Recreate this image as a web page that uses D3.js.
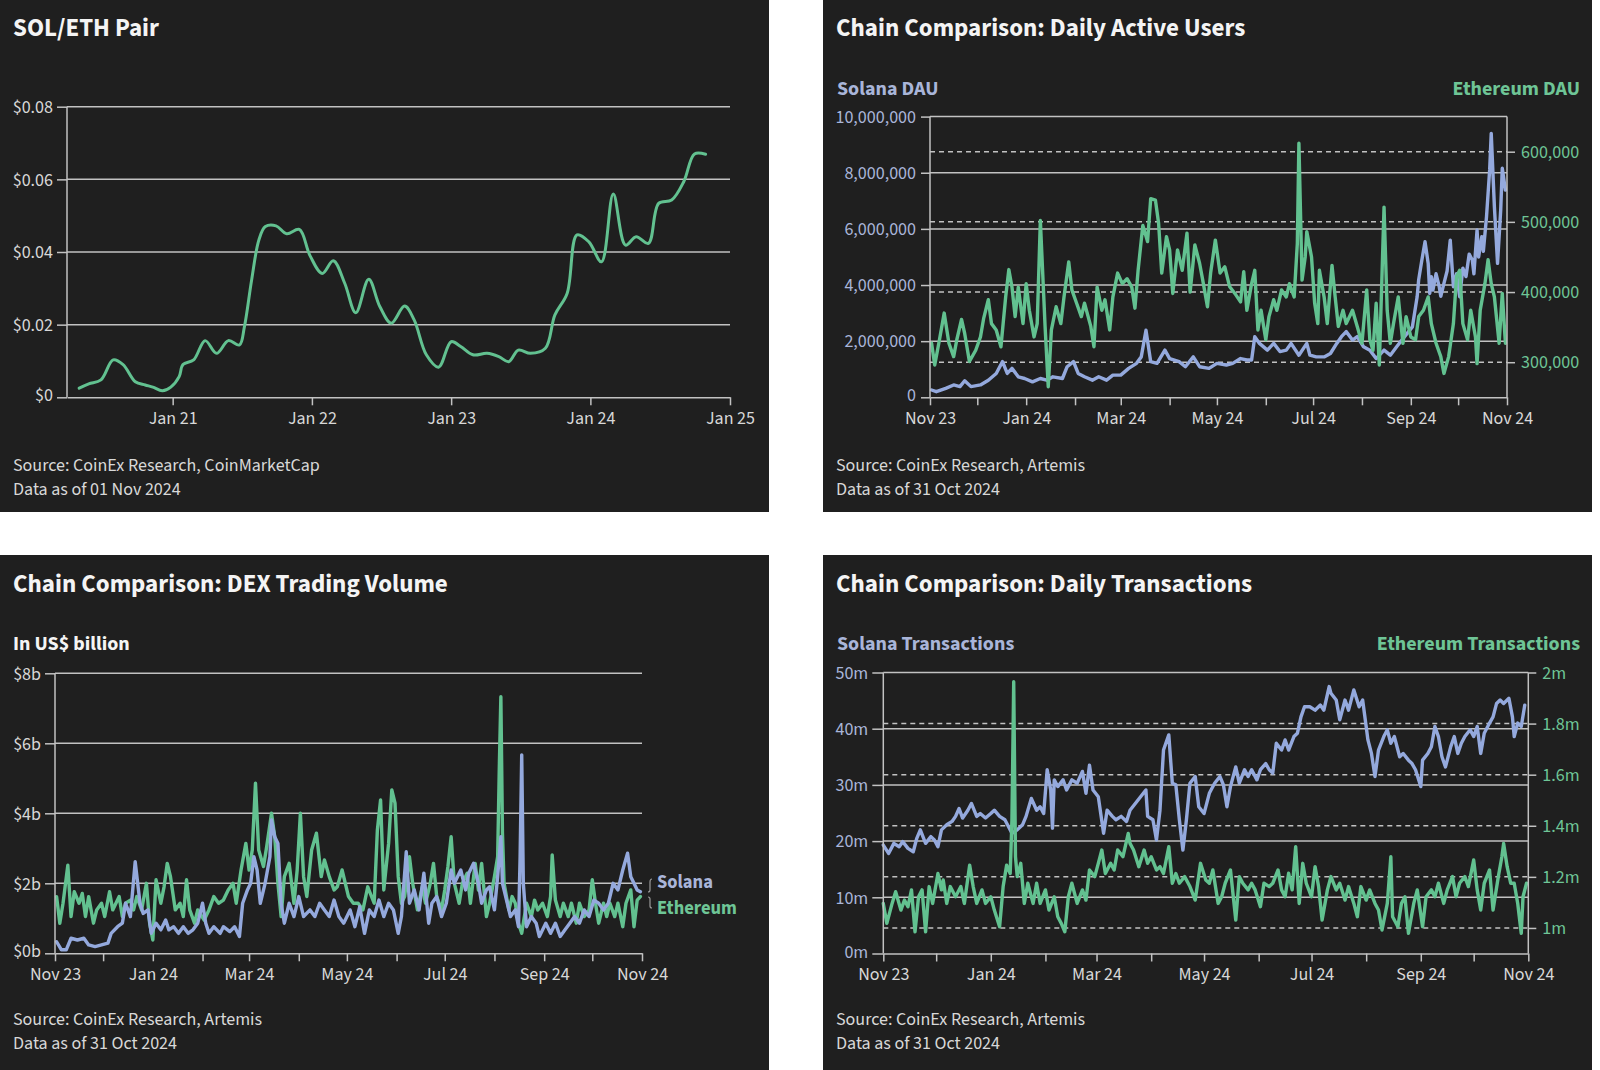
<!DOCTYPE html>
<html>
<head>
<meta charset="utf-8">
<script src="https://cdn.jsdelivr.net/npm/d3@7"></script>
<style>
  body { margin: 0; background: #ffffff; }
  svg { display: block; }
</style>
</head>
<body>
<svg id="chart" width="1600" height="1070"></svg>
<script>
'use strict';

// ---------- data ----------
// SOL/ETH price ratio, [date, ETH per SOL]
const solEth = [
  ["2020-05-01",0.0025],["2020-05-26",0.0037],["2020-06-27",0.0048],["2020-07-29",0.0103],["2020-08-24",0.009],
  ["2020-09-25",0.0043],["2020-10-21",0.0034],["2020-11-10",0.0028],["2020-12-05",0.0018],["2020-12-27",0.0028],
  ["2021-01-18",0.0057],["2021-01-28",0.009],["2021-02-25",0.0103],["2021-03-27",0.0156],["2021-04-26",0.0121],
  ["2021-05-27",0.0156],["2021-06-25",0.0144],["2021-07-08",0.0194],["2021-07-27",0.0323],["2021-08-15",0.0433],
  ["2021-09-01",0.047],["2021-09-29",0.0472],["2021-10-27",0.045],["2021-11-29",0.0462],["2021-12-27",0.039],
  ["2022-01-28",0.0341],["2022-02-26",0.0376],["2022-03-28",0.0314],["2022-04-26",0.0233],["2022-05-30",0.0325],
  ["2022-06-28",0.025],["2022-07-28",0.0204],["2022-09-01",0.0251],["2022-09-26",0.0213],["2022-10-28",0.0117],
  ["2022-11-29",0.0083],["2023-01-01",0.0153],["2023-01-26",0.014],["2023-02-27",0.0117],["2023-04-05",0.0121],
  ["2023-05-06",0.0112],["2023-06-01",0.0098],["2023-06-26",0.013],["2023-07-28",0.0121],["2023-09-05",0.0135],
  ["2023-09-30",0.0227],["2023-11-01",0.0286],["2023-11-27",0.0447],["2023-12-28",0.0428],["2024-01-30",0.0373],
  ["2024-03-01",0.056],["2024-04-02",0.0419],["2024-04-30",0.0442],["2024-06-01",0.0424],["2024-06-28",0.0534],
  ["2024-08-01",0.0543],["2024-09-02",0.0594],["2024-09-30",0.067],["2024-10-29",0.0669]
];

// daily series below are [days since 1 Nov 2023, value]
// Solana DAU, millions
const solDau = [
  [1,0.26],[4,0.2],[10,0.32],[15,0.44],[19,0.38],[22,0.59],[26,0.38],[32,0.44],[37,0.61],[42,0.85],[46,1.27],[49,0.85],
  [52,1.03],[56,0.73],[60,0.67],[65,0.55],[70,0.67],[74,0.61],[78,0.73],[84,0.67],[87,1.09],[91,1.27],[94,0.85],[98,0.73],
  [103,0.61],[107,0.73],[112,0.61],[116,0.79],[121,0.79],[126,1.03],[131,1.21],[134,1.44],[137,2.39],[140,1.27],[144,1.21],
  [149,1.68],[152,1.38],[158,1.27],[162,1.09],[167,1.44],[171,1.09],[177,1.03],[182,1.21],[188,1.15],[192,1.21],[197,1.38],
  [201,1.33],[204,1.33],[206,2.16],[209,1.92],[214,1.68],[218,1.92],[222,1.63],[226,1.68],[229,1.92],[234,1.5],[239,1.92],
  [241,1.5],[245,1.44],[250,1.44],[254,1.56],[258,1.92],[261,2.16],[264,2.34],[268,2.04],[271,2.16],[275,1.8],[279,1.68],
  [283,1.38],[288,1.68],[292,1.5],[296,1.8],[301,2.16],[306,2.51],[309,3.58],[310,4.2],[312,4.89],[314,5.54],[316,4.77],
  [317,3.7],[318,4.3],[319,3.82],[321,4.4],[323,3.94],[324,3.6],[326,4.06],[328,4.5],[330,5.6],[332,3.94],[334,4.4],
  [336,3.58],[338,4.6],[340,4.3],[342,5.1],[344,4.89],[345,4.4],[347,5.96],[348,5.0],[350,5.72],[351,5.2],[353,6.43],
  [355,8.1],[356,9.4],[358,6.79],[360,4.77],[362,6.67],[363,8.16],[365,7.38]
];
// Ethereum DAU, thousands
const ethDau = [
  [1,327],[3,296],[6,332],[9,370],[12,327],[15,308],[17,332],[20,361],[22,341],[25,301],[29,317],[32,336],[34,362],[37,389],
  [39,355],[42,346],[45,322],[48,393],[50,432],[52,407],[54,365],[56,407],[59,355],[61,412],[63,374],[66,336],[68,355],
  [70,502],[73,351],[75,265],[77,346],[80,379],[83,355],[85,393],[88,443],[90,403],[93,384],[96,365],[98,384],[102,351],
  [104,322],[106,407],[109,374],[111,389],[114,346],[116,393],[119,427],[122,412],[125,419],[128,407],[130,377],[132,431],
  [135,495],[138,472],[140,533],[143,531],[145,498],[147,427],[150,479],[152,460],[154,398],[157,460],[160,431],[163,484],
  [165,400],[168,467],[171,441],[173,417],[176,379],[178,427],[181,474],[184,427],[187,436],[190,408],[194,396],[197,386],
  [199,429],[201,374],[204,412],[206,431],[208,346],[210,374],[213,332],[215,365],[218,389],[220,374],[223,403],[226,393],
  [228,412],[231,393],[233,469],[234,612],[236,417],[238,450],[239,486],[242,450],[244,384],[246,355],[247,431],[250,393],
  [252,355],[255,438],[257,393],[259,351],[262,374],[264,355],[268,374],[271,351],[274,327],[277,403],[279,332],[281,317],
  [283,384],[285,296],[288,521],[290,374],[292,327],[294,355],[297,393],[300,327],[302,365],[305,336],[308,332],[310,365],
  [313,374],[316,393],[318,355],[321,327],[324,308],[326,284],[329,308],[332,355],[334,422],[336,431],[338,355],[341,332],
  [343,374],[346,336],[347,298],[349,374],[352,412],[354,446],[356,412],[358,393],[361,327],[363,398],[365,327]
];

// DEX trading volume, US$ billion
const ethDex = [
  [1,1.62],[3,0.86],[5,1.43],[8,2.52],[10,1.05],[12,1.76],[15,1.43],[17,1.71],[19,1.05],[21,1.62],[24,0.86],[26,1.24],
  [29,1.43],[31,1.05],[34,1.76],[36,1.24],[40,1.62],[42,1.05],[44,1.43],[47,1.52],[49,1.24],[51,1.62],[54,1.24],[57,2.0],
  [59,0.86],[61,0.38],[63,2.1],[66,1.43],[68,1.9],[70,2.57],[72,2.19],[75,1.24],[78,1.43],[80,1.05],[82,2.1],[84,1.24],
  [87,0.86],[89,1.24],[93,0.95],[96,1.24],[99,1.62],[102,1.43],[105,1.52],[108,1.81],[111,2.0],[113,1.43],[116,2.38],
  [119,3.14],[121,2.38],[123,2.95],[125,4.86],[127,2.95],[130,2.48],[132,3.05],[135,4.0],[137,3.33],[139,2.0],[141,1.05],
  [143,2.19],[146,2.57],[149,1.43],[151,2.38],[153,4.0],[155,2.19],[157,1.62],[160,2.95],[163,3.43],[166,2.19],[168,2.67],
  [171,2.19],[174,1.81],[176,1.9],[179,2.38],[183,1.62],[186,1.43],[189,1.43],[192,1.24],[195,1.9],[199,1.43],[201,3.52],
  [203,4.38],[205,1.81],[208,3.14],[210,4.67],[212,4.29],[214,2.19],[216,1.43],[218,1.62],[221,2.76],[223,2.0],[226,1.24],
  [229,1.9],[231,1.43],[234,2.0],[236,2.57],[238,1.62],[241,1.24],[243,1.81],[245,2.48],[247,3.33],[249,2.0],[252,1.43],
  [254,2.0],[257,2.29],[259,1.43],[262,2.57],[264,1.81],[266,2.57],[269,1.05],[271,1.43],[274,2.19],[276,2.76],[277,5.24],
  [278,7.33],[279,3.43],[280,2.0],[283,1.24],[285,1.62],[287,1.43],[289,0.86],[291,0.57],[294,1.43],[297,1.05],[299,1.52],
  [301,1.24],[304,1.43],[307,1.05],[309,1.62],[310,2.81],[312,1.52],[315,1.05],[317,1.43],[320,1.05],[322,1.43],[325,0.86],
  [327,1.43],[330,1.05],[333,1.24],[335,2.1],[337,1.43],[339,0.86],[342,1.43],[344,1.05],[346,1.43],[349,1.05],[351,1.43],
  [354,0.76],[356,1.43],[359,1.81],[361,0.76],[363,1.52],[365,1.62]
];
const solDex = [
  [1,0.33],[4,0.1],[7,0.1],[10,0.43],[14,0.38],[18,0.43],[21,0.24],[25,0.19],[29,0.24],[33,0.29],[35,0.57],[39,0.76],
  [42,0.86],[44,1.43],[47,1.05],[50,2.62],[53,1.43],[55,1.14],[58,1.24],[60,0.57],[63,0.86],[66,0.67],[69,0.95],[71,0.67],
  [74,0.76],[77,0.57],[80,0.76],[83,0.57],[86,0.67],[89,0.86],[92,1.43],[94,0.86],[96,0.57],[99,0.76],[103,0.57],[105,0.76],
  [109,0.62],[112,0.76],[115,0.48],[117,1.43],[120,1.81],[122,2.0],[124,2.76],[126,2.38],[128,1.43],[131,2.0],[134,2.76],
  [135,3.81],[137,3.33],[139,3.14],[141,1.43],[143,0.86],[146,1.43],[149,1.05],[152,1.62],[155,1.05],[159,1.24],[162,1.05],
  [165,1.43],[168,1.24],[171,1.05],[174,1.52],[177,1.05],[180,0.86],[184,1.24],[187,0.76],[190,1.33],[193,0.57],[196,1.24],
  [199,1.05],[202,1.52],[205,1.05],[208,1.43],[211,1.24],[214,0.57],[216,1.05],[219,2.9],[221,1.43],[224,1.81],[227,1.24],
  [230,2.29],[233,0.86],[235,1.43],[238,1.62],[241,1.05],[244,1.43],[247,2.38],[249,2.0],[253,2.38],[256,1.81],[258,2.29],
  [261,2.57],[264,2.0],[266,1.43],[269,1.81],[271,1.9],[274,1.24],[276,2.19],[278,3.33],[279,2.0],[282,1.43],[284,1.05],
  [287,1.24],[289,0.76],[290,2.76],[291,5.67],[292,2.0],[294,0.76],[297,1.05],[300,0.86],[302,0.48],[306,0.86],[309,0.57],
  [312,0.86],[315,0.48],[318,0.67],[321,0.86],[324,1.05],[327,0.86],[330,1.24],[333,1.05],[336,1.52],[339,1.43],[342,1.24],
  [345,1.43],[348,2.0],[351,1.81],[354,2.38],[357,2.86],[359,2.19],[361,2.0],[363,1.81],[365,1.76]
];

// daily transactions, millions
const solTx = [
  [0,19.3],[3,17.8],[6,19.6],[9,19.0],[11,19.9],[14,18.7],[17,18.1],[19,20.5],[21,22.0],[24,19.6],[27,20.8],[29,20.2],
  [31,19.0],[33,22.0],[36,22.9],[39,23.5],[41,24.4],[43,25.8],[45,24.1],[48,25.5],[50,26.7],[53,24.4],[55,24.9],[58,24.1],
  [61,24.9],[63,25.5],[66,24.4],[69,23.8],[71,22.6],[73,21.4],[76,22.0],[79,22.9],[81,24.4],[84,27.6],[87,25.5],[89,26.1],
  [91,24.9],[93,32.7],[95,29.1],[96,22.3],[97,30.9],[99,29.7],[102,30.9],[104,29.1],[107,30.9],[110,30.3],[113,32.4],
  [115,28.5],[117,33.5],[119,29.1],[122,27.9],[125,21.4],[127,25.5],[130,24.4],[132,23.8],[135,24.4],[138,23.5],[140,25.5],
  [143,26.7],[146,27.9],[149,29.1],[150,24.4],[153,23.8],[155,20.2],[157,25.5],[159,36.2],[162,38.9],[164,30.3],[166,30.0],
  [168,23.8],[170,18.4],[172,23.8],[174,30.3],[177,31.5],[179,26.1],[182,24.9],[185,28.5],[188,30.3],[191,31.5],[193,30.0],
  [195,26.1],[197,29.7],[200,33.2],[202,30.3],[205,32.7],[207,31.5],[209,32.7],[212,30.9],[214,32.7],[217,33.8],[219,32.7],
  [221,32.1],[223,37.4],[226,36.2],[228,38.0],[230,36.2],[233,38.6],[235,39.2],[237,42.1],[239,43.9],[242,43.9],[245,43.3],
  [248,44.2],[250,43.3],[253,47.5],[254,46.3],[257,45.1],[259,41.6],[262,45.1],[264,43.3],[267,46.9],[270,43.9],[272,45.1],
  [274,40.4],[275,38.0],[277,35.6],[279,31.5],[281,36.2],[284,38.6],[286,39.8],[288,37.4],[290,38.6],[293,35.0],[295,35.6],
  [298,34.4],[300,33.8],[302,32.7],[305,29.7],[306,34.4],[309,35.6],[311,36.8],[313,40.4],[315,38.6],[317,35.0],[319,33.2],
  [322,36.8],[324,38.6],[326,35.6],[328,37.4],[330,38.6],[333,39.8],[335,38.6],[337,40.4],[339,35.6],[341,39.2],[344,41.0],
  [346,42.1],[348,44.5],[350,45.1],[352,44.5],[355,45.4],[357,42.1],[358,38.6],[360,41.0],[362,40.4],[364,44.2]
];
const ethTx = [
  [0,1.096],[2,1.018],[5,1.096],[7,1.142],[10,1.07],[12,1.109],[14,1.083],[16,1.149],[18,0.985],[20,1.122],[22,1.149],
  [24,0.985],[26,1.162],[28,1.096],[31,1.213],[33,1.149],[34,1.188],[36,1.096],[38,1.162],[41,1.122],[44,1.162],[46,1.096],
  [49,1.246],[51,1.162],[53,1.096],[56,1.149],[58,1.096],[61,1.122],[63,1.07],[66,1.005],[68,1.162],[70,1.246],[72,1.213],
  [73,1.422],[74,1.964],[75,1.279],[76,1.201],[78,1.253],[80,1.096],[82,1.175],[85,1.096],[87,1.175],[89,1.096],[92,1.149],
  [94,1.07],[97,1.122],[99,1.044],[101,1.018],[103,0.985],[105,1.122],[107,1.175],[110,1.096],[113,1.149],[115,1.109],
  [117,1.227],[120,1.201],[122,1.253],[124,1.305],[126,1.213],[129,1.253],[131,1.227],[133,1.305],[136,1.279],[139,1.37],
  [140,1.331],[142,1.305],[145,1.24],[148,1.305],[150,1.253],[152,1.279],[155,1.227],[157,1.24],[159,1.213],[162,1.318],
  [164,1.175],[166,1.213],[168,1.175],[171,1.201],[174,1.162],[177,1.109],[180,1.253],[183,1.188],[185,1.175],[187,1.227],
  [190,1.096],[192,1.122],[194,1.175],[197,1.227],[200,1.031],[202,1.201],[204,1.175],[207,1.149],[209,1.175],[211,1.149],
  [214,1.083],[216,1.175],[219,1.162],[221,1.175],[224,1.227],[226,1.149],[228,1.122],[230,1.214],[232,1.149],[234,1.318],
  [236,1.096],[238,1.253],[240,1.175],[243,1.122],[245,1.24],[247,1.162],[249,1.031],[252,1.149],[254,1.201],[257,1.149],
  [259,1.175],[262,1.109],[264,1.162],[267,1.096],[269,1.044],[271,1.162],[274,1.109],[276,1.149],[279,1.096],[281,1.07],
  [283,0.992],[286,1.096],[288,1.279],[289,1.044],[292,1.005],[294,1.096],[296,1.122],[298,0.979],[301,1.096],[303,1.149],
  [306,1.005],[308,1.122],[311,1.149],[313,1.122],[315,1.175],[318,1.096],[320,1.149],[323,1.201],[325,1.122],[327,1.175],
  [330,1.201],[332,1.162],[335,1.266],[337,1.149],[339,1.07],[341,1.175],[344,1.227],[346,1.07],[349,1.201],[351,1.279],
  [352,1.331],[354,1.24],[356,1.175],[358,1.175],[360,1.096],[362,0.979],[363,1.122],[365,1.175]
];

// tick values
const pairTicks = [0, 0.02, 0.04, 0.06, 0.08];
const dauLeftTicks = [0, 2, 4, 6, 8, 10];          // millions
const dauRightTicks = [300, 400, 500, 600];        // thousands
const dexTicks = [0, 2, 4, 6, 8];
const txLeftTicks = [0, 10, 20, 30, 40, 50];
const txRightTicks = [1.0, 1.2, 1.4, 1.6, 1.8, 2.0];

// ---------- style ----------
const BG = "#1f1f1f";
const GRID = "#c2c2c2";
const GREEN = "#62c190";
const BLUE = "#94a9dd";
const TXT = "#d8d8d8";
const BLUE_TXT = "#a9b5d9";
const GREEN_TXT = "#6ec596";
const FONT = "'Source Sans Pro', 'Source Sans 3', Lato, 'Noto Sans', sans-serif";
const AX = 18;     // axis label size

const svg = d3.select("#chart");
const start = new Date(2023, 10, 1);
const end = new Date(2024, 10, 1);
const dayDate = d => d3.timeDay.offset(start, d);
const fmtMonth = d3.timeFormat("%b %y");
const months = d3.timeMonth.range(start, d3.timeDay.offset(end, 1));

function panel(x, y, w, h) {
  svg.append("rect").attr("x", x).attr("y", y).attr("width", w).attr("height", h).attr("fill", BG);
}

function text(x, y, str, size, weight, color, anchor) {
  svg.append("text").attr("x", x).attr("y", y).text(str)
    .attr("font-family", FONT).attr("font-size", size).attr("font-weight", weight)
    .attr("fill", color).attr("text-anchor", anchor || "start");
}

function grid(y, x0, x1, ticks, dashed) {
  svg.append("g").selectAll("line").data(ticks).join("line")
    .attr("x1", x0).attr("x2", x1)
    .attr("y1", d => y(d)).attr("y2", d => y(d))
    .attr("stroke", GRID).attr("stroke-width", 1.5)
    .attr("stroke-dasharray", dashed ? "5,4" : null);
}

function vline(x, y) {
  svg.append("line").attr("x1", x).attr("x2", x)
    .attr("y1", y.range()[1]).attr("y2", y.range()[0])
    .attr("stroke", GRID).attr("stroke-width", 1.5);
}

function styleAxis(g, color) {
  g.select(".domain").remove();
  g.selectAll(".tick line").attr("stroke", GRID).attr("stroke-width", 1.5);
  g.selectAll(".tick text").attr("fill", color).attr("font-size", AX).attr("font-family", FONT);
}

function yLeft(y, x0, ticks, fmt, color, size, pad) {
  const g = svg.append("g").attr("transform", `translate(${x0},0)`)
    .call(d3.axisLeft(y).tickValues(ticks).tickFormat(fmt).tickSize(size).tickPadding(pad));
  styleAxis(g, color);
  // lift the lowest label a touch so it clears the date labels below
  g.selectAll(".tick text").filter(d => d === ticks[0]).attr("dy", "0.2em");
}

function yRight(y, x1, ticks, fmt, color) {
  const g = svg.append("g").attr("transform", `translate(${x1},0)`)
    .call(d3.axisRight(y).tickValues(ticks).tickFormat(fmt).tickSize(8).tickPadding(6));
  styleAxis(g, color);
}

function xAxis(x, yPos, ticks, fmt) {
  const g = svg.append("g").attr("transform", `translate(0,${yPos})`)
    .call(d3.axisBottom(x).tickValues(ticks).tickFormat(fmt).tickSizeInner(8).tickSizeOuter(0).tickPadding(6));
  g.select(".domain").attr("stroke", GRID).attr("stroke-width", 1.5);
  g.selectAll(".tick line").attr("stroke", GRID).attr("stroke-width", 1.5);
  g.selectAll(".tick text").attr("fill", TXT).attr("font-size", AX).attr("font-family", FONT);
}

function series(data, x, y, color, curve, width) {
  const line = d3.line()
    .x(d => x(d[0]))
    .y(d => y(d[1]))
    .curve(curve || d3.curveLinear);
  svg.append("path").attr("d", line(data))
    .attr("fill", "none").attr("stroke", color).attr("stroke-width", width || 3.4)
    .attr("stroke-linejoin", "round").attr("stroke-linecap", "round");
}

const monthLabel = (d, i) => (i % 2 === 0 ? fmtMonth(d) : "");

function source(x, y, lines) {
  lines.forEach((s, i) => text(x, y + i * 23.5, s, 18, 400, TXT));
}

// ---------- panel 1: SOL/ETH pair ----------
(function () {
  panel(0, 0, 769, 512);
  const data = solEth.map(d => [new Date(d[0]), d[1]]);
  const x = d3.scaleTime().domain([new Date(2020, 2, 30), new Date(2025, 0, 1)]).range([67, 730]);
  const y = d3.scaleLinear().domain([0, 0.08]).range([397.3, 106.7]);
  text(13, 36, "SOL/ETH Pair", 25, 700, "#f4f4f4");
  grid(y, 67, 730, pairTicks.slice(1));
  series(data, x, y, GREEN, d3.curveCatmullRom.alpha(0.5), 3);
  vline(67, y);
  yLeft(y, 67, pairTicks, d => (d === 0 ? "$0" : "$" + d.toFixed(2)), TXT, 10, 4);
  xAxis(x, 397.3, d3.timeYear.range(new Date(2021, 0, 1), new Date(2025, 0, 2)), fmtMonth);
  source(13, 471, ["Source: CoinEx Research, CoinMarketCap", "Data as of 01 Nov 2024"]);
})();

// ---------- panel 2: daily active users ----------
(function () {
  panel(823, 0, 769, 512);
  const xt = d3.scaleTime().domain([start, end]).range([930, 1507]);
  const x = d => xt(dayDate(d));
  const y = d3.scaleLinear().domain([0, 10]).range([397.3, 116.6]);
  const y2 = d3.scaleLinear().domain([250, 650]).range([397.3, 116.6]);
  text(836, 36, "Chain Comparison: Daily Active Users", 25, 700, "#f4f4f4");
  text(837, 95, "Solana DAU", 20, 700, BLUE_TXT);
  text(1580, 95, "Ethereum DAU", 20, 700, GREEN_TXT, "end");
  grid(y, 930, 1507, dauLeftTicks.slice(1));
  grid(y2, 930, 1507, dauRightTicks, true);
  series(solDau, x, y, BLUE);
  series(ethDau, x, y2, GREEN);
  vline(930, y);
  vline(1507, y);
  yLeft(y, 930, dauLeftTicks, d => d3.format(",")(d * 1e6), BLUE_TXT, 9, 5);
  yRight(y2, 1507, dauRightTicks, d => d3.format(",")(d * 1e3), GREEN_TXT);
  xAxis(xt, 397.3, months, monthLabel);
  source(836, 471, ["Source: CoinEx Research, Artemis", "Data as of 31 Oct 2024"]);
})();

// ---------- panel 3: DEX trading volume ----------
(function () {
  panel(0, 555, 769, 515);
  const xt = d3.scaleTime().domain([start, end]).range([55, 642]);
  const x = d => xt(dayDate(d));
  const y = d3.scaleLinear().domain([0, 8]).range([953.3, 673.3]);
  text(13, 592, "Chain Comparison: DEX Trading Volume", 25, 700, "#f4f4f4");
  text(13, 650, "In US$ billion", 20, 700, "#f4f4f4");
  grid(y, 55, 642, dexTicks.slice(1));
  series(ethDex, x, y, GREEN);
  series(solDex, x, y, BLUE);
  vline(55, y);
  yLeft(y, 55, dexTicks, d => "$" + d + "b", TXT, 10, 4);
  xAxis(xt, 953.3, months, monthLabel);
  // end labels with small brackets
  const br = svg.append("g").attr("fill", "none").attr("stroke", "#9a9a9a").attr("stroke-width", 1.2);
  br.append("path").attr("d", "M652,879 q-2,0 -2,3 v8 q0,2 -2,2");
  br.append("path").attr("d", "M648,897 q2,0 2,2 v7 q0,2 2,2");
  text(657, 888, "Solana", 18.5, 700, BLUE_TXT);
  text(657, 914, "Ethereum", 18.5, 700, GREEN_TXT);
  source(13, 1025, ["Source: CoinEx Research, Artemis", "Data as of 31 Oct 2024"]);
})();

// ---------- panel 4: daily transactions ----------
(function () {
  panel(823, 555, 769, 515);
  const xt = d3.scaleTime().domain([start, end]).range([883.3, 1528.3]);
  const x = d => xt(dayDate(d));
  const y = d3.scaleLinear().domain([0, 50]).range([953.5, 672.5]);
  const y2 = d3.scaleLinear().domain([0.9, 2.0]).range([953.5, 672.5]);
  text(836, 592, "Chain Comparison: Daily Transactions", 25, 700, "#f4f4f4");
  text(837, 650, "Solana Transactions", 20, 700, BLUE_TXT);
  text(1580, 650, "Ethereum Transactions", 20, 700, GREEN_TXT, "end");
  grid(y, 883.3, 1528.3, txLeftTicks.slice(1));
  grid(y2, 883.3, 1528.3, txRightTicks.slice(0, -1), true);
  series(solTx, x, y, BLUE);
  series(ethTx, x, y2, GREEN);
  vline(883.3, y);
  vline(1528.3, y);
  yLeft(y, 883.3, txLeftTicks, d => d + "m", BLUE_TXT, 11, 4);
  yRight(y2, 1528.3, txRightTicks, d => +d.toFixed(1) + "m", GREEN_TXT);
  xAxis(xt, 953.5, months, monthLabel);
  source(836, 1025, ["Source: CoinEx Research, Artemis", "Data as of 31 Oct 2024"]);
})();
</script>
</body>
</html>
